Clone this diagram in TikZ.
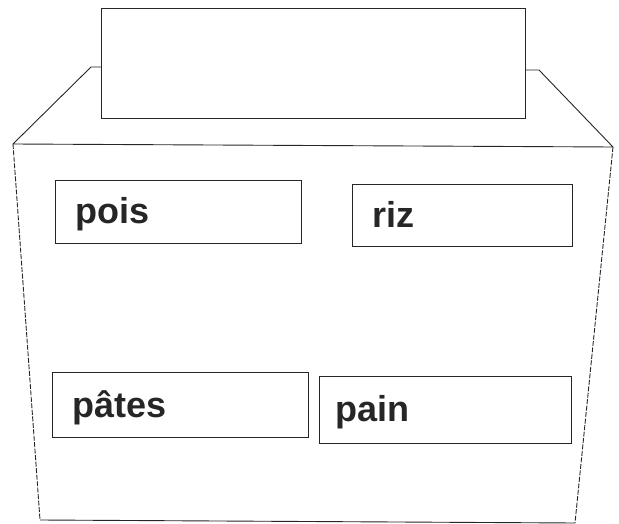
\documentclass[tikz,border=0pt]{standalone}
\usepackage{fontspec}
\setmainfont{Liberation Sans}
\begin{document}
\begin{tikzpicture}[x=1pt,y=-1pt,
  edge/.style={draw=black!85,line width=0.9pt,line join=round},
  side/.style={draw=black!85,line width=0.9pt,dash pattern=on 5pt off 1.5pt},
  labelbox/.style={draw=black!85,line width=0.9pt,rectangle,inner sep=0pt,anchor=north west},
  word/.style={inner sep=0pt,anchor=base west,font=\fontsize{36}{40}\selectfont\bfseries,text=black!85}]
\useasboundingbox (0,0) rectangle (619,524);
% corners of the box
\coordinate (tl) at (13,144);
\coordinate (tr) at (613,147);
\coordinate (bl) at (40,520);
\coordinate (br) at (575,523);
\coordinate (ls) at (91,67);
\coordinate (rs) at (539,70);
\coordinate (lidl) at (101,67);
\coordinate (lidr) at (525,70);
% lid card
\node[labelbox,minimum width=424pt,minimum height=110pt] (lid) at (101,8) {};
% lid slanted edges
\draw[edge] (lidl) -- (ls) -- (tl) -- (tr) -- (rs) -- (lidr);
% box sides and bottom
\draw[side] (tl) -- (bl);
\draw[side] (tr) -- (br);
\draw[edge] (bl) -- (br);
% label boxes
\node[labelbox,minimum width=246pt,minimum height=63pt] (bpois) at (55,180) {};
\node[labelbox,minimum width=220pt,minimum height=62pt] (briz) at (352,184) {};
\node[labelbox,minimum width=256pt,minimum height=65pt] (bpates) at (52,372) {};
\node[labelbox,minimum width=252pt,minimum height=67pt] (bpain) at (319,376) {};
% words
\node[word] (tpois) at (75,224) {pois};
\node[word] (triz) at (372,227) {riz};
\node[word] (tpates) at (72,417) {pâtes};
\node[word] (tpain) at (335,421) {pain};
\end{tikzpicture}
\end{document}
